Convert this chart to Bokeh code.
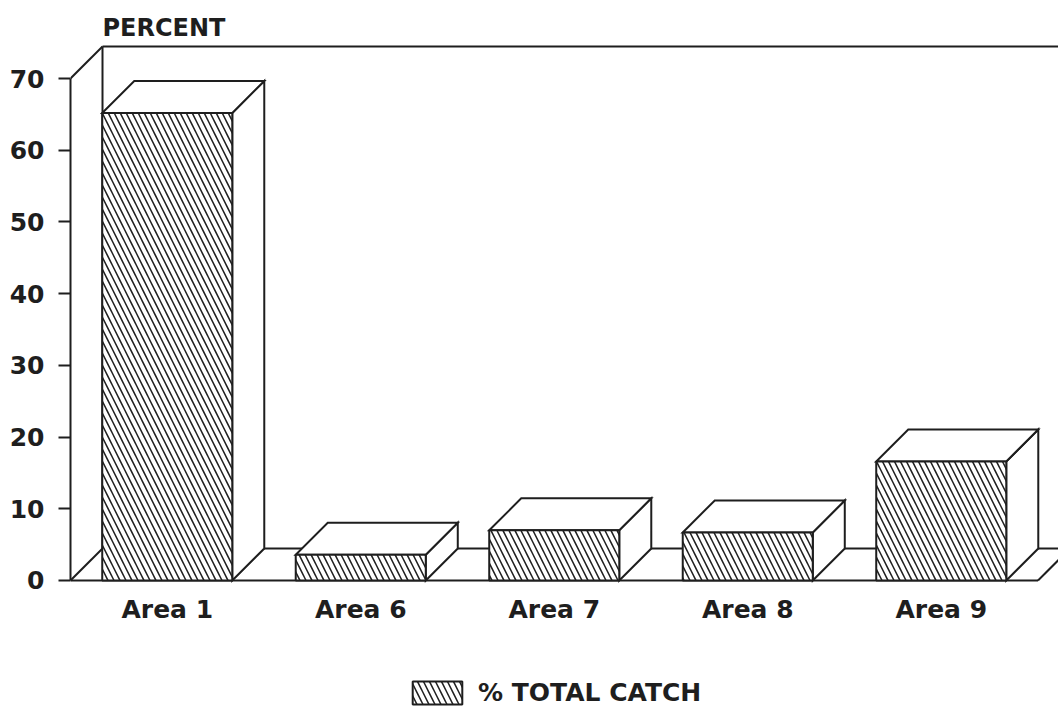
from bokeh.plotting import figure
from bokeh.models import Range1d, FixedTicker, Label, Legend, LegendItem, ColumnDataSource
from bokeh.core.properties import value
from bokeh.embed import file_html
from bokeh.resources import INLINE

# ---- data ----
categories = ["Area 1", "Area 6", "Area 7", "Area 8", "Area 9"]
pct_total_catch = [65.2, 3.6, 7.0, 6.7, 16.6]
y_ticks = [0, 10, 20, 30, 40, 50, 60, 70]
series_label = "% TOTAL CATCH"
y_title = "PERCENT"

# ---- style / geometry constants ----
FONT = "DejaVu Sans"
INK = "#1e1e1e"
LW = 2.0
BAR_W = 0.672          # bar width in category units
DX, DY = 0.1654, 4.462  # 3-D depth offset (x units, y units)
YMAX = 70

W, H = 1058, 710
p = figure(width=W, height=H, output_backend="svg", toolbar_location=None,
           x_range=Range1d(-0.5, 4.6059), y_range=Range1d(-18.128, 80.877),
           x_axis_location=None,
           min_border_left=70, min_border_right=0, min_border_top=0, min_border_bottom=0)
p.outline_line_color = None
p.grid.visible = False
p.background_fill_color = "white"
p.border_fill_color = "white"

# y axis
ya = p.yaxis[0]
ya.ticker = FixedTicker(ticks=y_ticks)
ya.bounds = (0, YMAX)
ya.axis_line_color = INK
ya.axis_line_width = LW
ya.major_tick_line_color = INK
ya.major_tick_line_width = LW
ya.major_tick_out = 12
ya.major_tick_in = 0
ya.minor_tick_line_color = None
ya.major_label_standoff = 14
ya.major_label_text_font = FONT
ya.major_label_text_font_style = "bold"
ya.major_label_text_font_size = "25px"
ya.major_label_text_color = INK

n = len(categories)
x0, x1 = -0.5, n - 0.5

# back wall and floor outline
wall_xs = [
    [x0 + DX, x0 + DX], [x0 + DX, x1 + DX + 1], [x0, x0 + DX],
    [x0, x1], [x0, x0 + DX], [x1, x1 + DX], [x0 + DX, x1 + DX + 1],
    [x1 + DX, x1 + DX],
]
wall_ys = [
    [DY, YMAX + DY], [YMAX + DY, YMAX + DY], [YMAX, YMAX + DY],
    [0, 0], [0, DY], [0, DY], [DY, DY],
    [DY, YMAX + DY],
]
p.multi_line(wall_xs, wall_ys, line_color=INK, line_width=LW)

# bars: side and top faces
side_xs, side_ys, top_xs, top_ys = [], [], [], []
lefts, rights = [], []
for i, v in enumerate(pct_total_catch):
    l, r = i - BAR_W / 2, i + BAR_W / 2
    lefts.append(l)
    rights.append(r)
    side_xs.append([r, r + DX, r + DX, r])
    side_ys.append([0, DY, v + DY, v])
    top_xs.append([l, l + DX, r + DX, r])
    top_ys.append([v, v + DY, v + DY, v])

p.patches(side_xs, side_ys, fill_color="white", line_color=INK, line_width=LW, line_join="miter")
p.patches(top_xs, top_ys, fill_color="white", line_color=INK, line_width=LW, line_join="miter")

src = ColumnDataSource(dict(left=lefts, right=rights, top=pct_total_catch, bottom=[0] * n))
front = p.quad(left="left", right="right", top="top", bottom="bottom", source=src,
               fill_color="white", line_color=INK, line_width=LW,
               hatch_pattern="\\", hatch_color=INK, hatch_weight=1.5, hatch_scale=12)

# category labels
lab_src = ColumnDataSource(dict(x=list(range(n)), y=[-4.05] * n, text=categories))
p.text(x="x", y="y", text="text", source=lab_src, text_align="center", text_baseline="middle",
       text_font=value(FONT), text_font_style="bold", text_font_size="25px", text_color=INK)

# axis title
p.add_layout(Label(x=x0 + DX, y=77.0, text=y_title, text_font=FONT, text_font_style="bold",
                   text_font_size="24px", text_color=INK, text_baseline="alphabetic"))

# legend
leg = Legend(items=[LegendItem(label=series_label, renderers=[front], index=0)],
             location=(336, 3), padding=0, margin=0, spacing=0,
             glyph_width=62, glyph_height=29, label_standoff=10,
             label_text_font=FONT, label_text_font_style="bold", label_text_font_size="25px",
             label_text_color=INK, border_line_color=None, background_fill_alpha=0)
p.add_layout(leg)

open("out.html", "w").write(file_html(p, INLINE))
